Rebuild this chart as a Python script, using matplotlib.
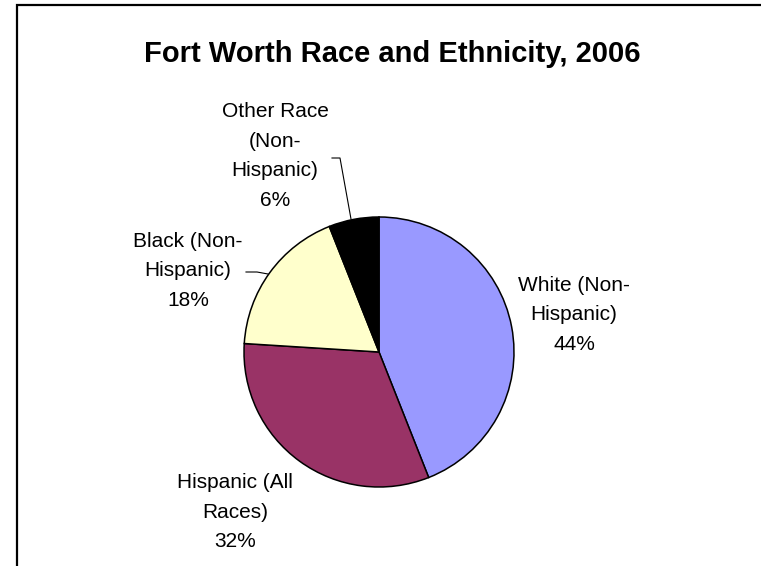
import matplotlib
matplotlib.use("Agg")
import matplotlib.pyplot as plt
from matplotlib.patches import Rectangle

W, H = 761, 566

labels = ["White (Non-\nHispanic)", "Hispanic (All\nRaces)",
          "Black (Non-\nHispanic)", "Other Race\n(Non-\nHispanic)"]
shares = [44, 32, 18, 6]
colors = ["#9999FF", "#993366", "#FFFFCC", "#000000"]

# label anchor positions in pixel space (x, y from top)
label_pos = [(574, 315), (235, 512), (188, 271), (275, 156)]

plt.rcParams["font.family"] = ["Liberation Sans", "DejaVu Sans"]

fig = plt.figure(figsize=(W / 100, H / 100), dpi=100)
ax = fig.add_axes([0, 0, 1, 1])

cx, cy, r = 379, H - 352, 135
ax.pie(shares, colors=colors, startangle=90, counterclock=False,
       center=(cx, cy), radius=r, frame=True,
       wedgeprops=dict(edgecolor="black", linewidth=1.1))
ax.set_xlim(0, W)
ax.set_ylim(0, H)
ax.axis("off")

for lab, pct, (x, y) in zip(labels, shares, label_pos):
    ax.text(x, H - y, f"{lab}\n{pct}%", ha="center", va="center",
            fontsize=15, linespacing=1.72, color="black")

# leader lines
ax.plot([332, 340, 351], [H - 158, H - 158, H - 219], color="black", lw=0.8)
ax.plot([246, 257, 268], [H - 272, H - 272, H - 274], color="black", lw=0.8)

ax.text(392, H - 54, "Fort Worth Race and Ethnicity, 2006", ha="center",
        va="center", fontsize=21, fontweight="bold")

# chart area border (cropped on the right and bottom)
fig.patches.append(Rectangle((17 / W, -0.1), 1.2, (H - 5) / H + 0.1,
                             transform=fig.transFigure, fill=False,
                             edgecolor="black", linewidth=1.6))

fig.savefig("out.png", dpi=100)
